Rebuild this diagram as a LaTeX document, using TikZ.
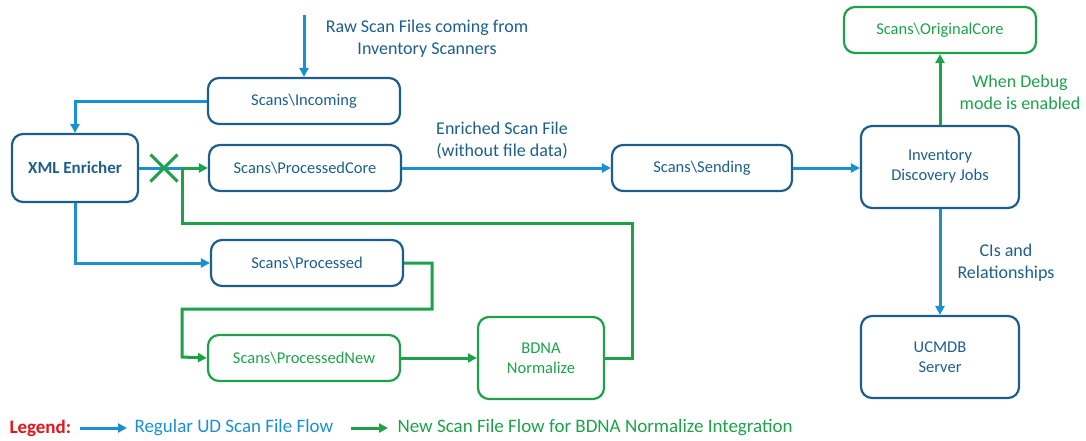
\documentclass[tikz,border=0pt]{standalone}
\usepackage{fontspec}
\setmainfont{Carlito}
\usetikzlibrary{arrows.meta,shapes.misc}
\definecolor{boxblue}{HTML}{1D5F8A}
\definecolor{flowblue}{HTML}{1A8FD2}
\definecolor{flowgreen}{HTML}{1DA24A}
\definecolor{legendred}{HTML}{E3151B}

\begin{document}
\begin{tikzpicture}[x=1pt, y=-1pt,
        store/.style={draw=boxblue, text=boxblue, line width=2.2pt, rounded corners=11pt, inner sep=0pt,
                      minimum width=192pt, minimum height=46pt, align=center, font=\fontsize{16.5}{20}\selectfont},
        newstore/.style={store, draw=flowgreen, text=flowgreen},
        bigstore/.style={store, minimum width=158pt, minimum height=82pt},
        blueflow/.style={draw=flowblue, line width=3pt, -{Triangle[length=9pt,width=9pt]}},
        greenflow/.style={draw=flowgreen, line width=3pt, -{Triangle[length=9pt,width=9pt]}},
        note/.style={text=boxblue, align=center, font=\fontsize{18}{22}\selectfont}]
    \useasboundingbox (0,0) rectangle (1086,440);
    \node[store] (incoming) at (304,101) {Scans\textbackslash Incoming};
    \node[store, minimum width=126pt, minimum height=68pt, font=\fontsize{17}{20}\selectfont\bfseries] (enricher) at (75,168) {XML Enricher};
    \node[store] (proccore) at (305,168) {Scans\textbackslash ProcessedCore};
    \node[store] (processed) at (307,263) {Scans\textbackslash Processed};
    \node[newstore] (procnew) at (304,358) {Scans\textbackslash ProcessedNew};
    \node[newstore, minimum width=126pt, minimum height=82pt] (bdna) at (541,358) {BDNA\\Normalize};
    \node[store, minimum width=180pt] (sending) at (702,168) {Scans\textbackslash Sending};
    \node[bigstore] (jobs) at (940,167) {Inventory\\Discovery Jobs};
    \node[newstore] (original) at (940,30) {Scans\textbackslash OriginalCore};
    \node[bigstore] (ucmdb) at (940,357) {UCMDB\\Server};
    \node[note] (raw) at (427,39) {Raw Scan Files coming from\\Inventory Scanners};
    \node[note] (enriched) at (502,140) {Enriched Scan File\\(without file data)};
    \node[note, text=flowgreen] (debug) at (1020,92) {When Debug\\mode is enabled};
    \node[note] (cis) at (1006,263) {CIs and\\Relationships};
    \coordinate (src) at (304,15);
    \coordinate (join) at (182,168);
    \draw[blueflow] (src) -- (incoming.north);
    \draw[blueflow] (incoming.west) -| (enricher.north);
    \draw[blueflow, -] (enricher.east) -- (join);
    \draw[blueflow] (enricher.south) |- (processed.west);
    \draw[blueflow] (proccore.east) -- (sending.west);
    \draw[blueflow] (sending.east) -- (sending.east -| jobs.west);
    \draw[blueflow] (jobs.south) -- (ucmdb.north);
    \draw[greenflow] (jobs.north) -- (original.south);
    \draw[greenflow] (processed.east) -| (432,309) -| (182,357) -- (procnew.west);
    \draw[greenflow] (procnew.east) -- (bdna.west);
    \draw[greenflow] (bdna.east) -| (632,223) -| (join) -- (proccore.west);
    \node[cross out, draw=flowgreen, line width=3pt, minimum size=24pt, inner sep=0pt] (stop) at (164,168) {};
    % legend
    \node[anchor=west, text=legendred, font=\fontsize{19}{22}\selectfont\bfseries] (legend) at (6,428) {Legend:};
    \node[anchor=west, text=flowblue, font=\fontsize{19}{22}\selectfont] (regular) at (131,428) {Regular UD Scan File Flow};
    \node[anchor=west, text=flowgreen, font=\fontsize{19}{22}\selectfont] (newflow) at (394,428) {New Scan File Flow for BDNA Normalize Integration};
    \draw[blueflow] ([xshift=5pt]legend.east) -- ([xshift=-4pt]regular.west);
    \draw[greenflow] ([xshift=14pt]regular.east) -- ([xshift=-6pt]newflow.west);
\end{tikzpicture}
\end{document}
